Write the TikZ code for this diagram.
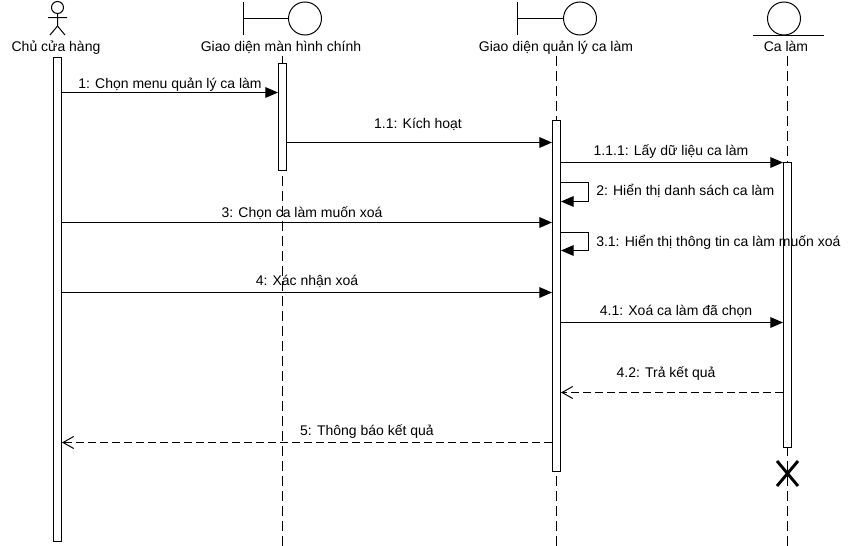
\documentclass[tikz,border=0pt]{standalone}
\usepackage{fontspec}
\setmainfont{Liberation Sans}
\usetikzlibrary{arrows.meta,fit}
\begin{document}
\begin{tikzpicture}[x=0.75pt,y=-0.75pt,
  every node/.style={font=\fontsize{10.5}{12}\selectfont, inner sep=0pt},
  thin line/.style={line width=0.75pt},
  lifeline/.style={thin line, dash pattern=on 7.5pt off 3.75pt},
  actbox/.style={draw, thin line, fill=white, rectangle, inner sep=0pt},
  msg/.style={thin line, -{Triangle[length=9.5pt,width=8pt]}},
  reply/.style={thin line, dash pattern=on 6pt off 3pt, -{Straight Barb[length=8pt,width=9pt,line width=0.75pt]}},
  lbl/.style={anchor=base}]
\useasboundingbox (0,0) rectangle (854,546);
\fill[white] (0,0) rectangle (854,546);

% --- heads of the lifelines ---
% actor
\draw[thin line] (57.5,7.5) circle[radius=6];
\draw[thin line] (57.5,13.5) -- (57.5,26) (48,17.5) -- (67,17.5)
  (57.5,26) -- (50,35) (57.5,26) -- (65,35);
\node[lbl] (hA) at (56,51) {Chủ cửa hàng};
% boundary: main screen
\draw[thin line] (243,2) -- (243,35) (243,18.5) -- (288.5,18.5);
\draw[thin line] (305,18.5) circle[radius=16.5];
\node[lbl] (hB) at (281,51) {Giao diện màn hình chính};
% boundary: shift management screen
\draw[thin line] (517,2) -- (517,35) (517,18.5) -- (563.5,18.5);
\draw[thin line] (580,18.5) circle[radius=16.5];
\node[lbl] (hC) at (556,51) {Giao diện quản lý ca làm};
% entity
\draw[thin line] (784,18.5) circle[radius=16.5];
\draw[thin line] (753,35) -- (824,35);
\node[lbl] (hD) at (786,51) {Ca làm};

% --- dashed lifelines ---
\draw[lifeline] (282.5,56) -- (282.5,546);
\draw[lifeline] (556.5,56) -- (556.5,546);
\draw[lifeline] (787.5,56) -- (787.5,546);

% --- activation boxes ---
\node[actbox, fit={(53.5,57)(61.5,541)}] (actA) {};
\node[actbox, fit={(278.5,63)(286.5,170)}] (actB) {};
\node[actbox, fit={(552.5,120)(560.5,471)}] (actC) {};
\node[actbox, fit={(783.5,162)(791.5,447)}] (actD) {};

% destruction mark
\draw[line width=2.2pt] (777,461) -- (798,486) (798,461) -- (777,486);

% --- messages ---
\draw[msg] (actA.east |- 0,92.5) -- (actB.west |- 0,92.5);
\node[lbl] (m1) at (170,88) {1: Chọn menu quản lý ca làm};

\draw[msg] (actB.east |- 0,142.5) -- (actC.west |- 0,142.5);
\node[lbl] (m2) at (418,128) {1.1: Kích hoạt};

\draw[msg] (actC.east |- 0,162.5) -- (actD.west |- 0,162.5);
\node[lbl] (m3) at (671,155) {1.1.1: Lấy dữ liệu ca làm};

\draw[msg] (actC.east |- 0,182.5) -- ++(27,0) -- ++(0,19) -- (actC.east |- 0,201.5);
\node[lbl, anchor=base west] (m4) at (596,195) {2: Hiển thị danh sách ca làm};

\draw[msg] (actA.east |- 0,222.5) -- (actC.west |- 0,222.5);
\node[lbl] (m5) at (302,217) {3: Chọn ca làm muốn xoá};

\draw[msg] (actC.east |- 0,232.5) -- ++(27,0) -- ++(0,18) -- (actC.east |- 0,250.5);
\node[lbl, anchor=base west] (m6) at (596,246) {3.1: Hiển thị thông tin ca làm muốn xoá};

\draw[msg] (actA.east |- 0,292.5) -- (actC.west |- 0,292.5);
\node[lbl] (m7) at (307,285) {4: Xác nhận xoá};

\draw[msg] (actC.east |- 0,322.5) -- (actD.west |- 0,322.5);
\node[lbl] (m8) at (676,315) {4.1: Xoá ca làm đã chọn};

\draw[reply] (actD.west |- 0,392.5) -- (actC.east |- 0,392.5);
\node[lbl] (m9) at (666,377) {4.2: Trả kết quả};

\draw[reply] (actC.west |- 0,442.5) -- (actA.east |- 0,442.5);
\node[lbl] (m10) at (367,435) {5: Thông báo kết quả};
\end{tikzpicture}
\end{document}
